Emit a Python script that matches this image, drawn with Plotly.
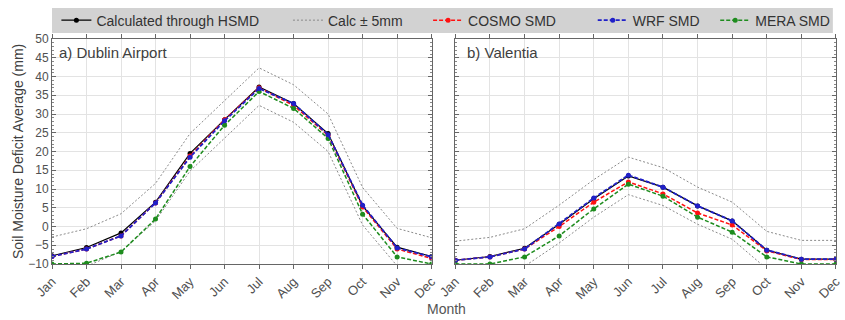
import plotly.graph_objects as go
from plotly.subplots import make_subplots

months = ["Jan", "Feb", "Mar", "Apr", "May", "Jun", "Jul", "Aug", "Sep", "Oct", "Nov", "Dec"]

# a) Dublin Airport
dub_calc = [-7.8, -5.6, -1.7, 6.5, 19.5, 28.5, 37.2, 32.8, 24.8, 5.5, -5.5, -8.0]
dub_upper = [-2.8, -0.6, 3.4, 11.5, 24.8, 33.5, 42.3, 37.8, 30.0, 10.4, -0.5, -3.0]
dub_lower = [-12.8, -10.6, -6.7, 1.5, 14.8, 23.5, 32.3, 27.8, 20.0, 0.4, -10.5, -13.0]
dub_cosmo = [-8.0, -6.0, -2.5, 6.3, 18.8, 28.5, 37.0, 32.3, 24.3, 5.2, -6.0, -8.5]
dub_wrf = [-8.0, -6.0, -2.5, 6.3, 18.5, 28.2, 36.8, 32.8, 24.5, 5.7, -5.7, -8.1]
dub_mera = [-10.0, -9.8, -6.8, 2.0, 16.0, 27.0, 36.0, 31.5, 23.5, 3.3, -8.1, -10.0]

# b) Valentia
val_calc = [-9.0, -8.0, -5.8, 0.6, 7.4, 13.5, 10.5, 5.5, 1.5, -6.3, -8.7, -8.7]
val_upper = [-3.9, -2.9, -0.6, 5.7, 12.5, 18.5, 15.7, 10.5, 6.5, -1.3, -3.7, -3.7]
val_lower = [-13.9, -12.9, -10.6, -4.4, 2.5, 8.5, 5.6, 0.6, -3.4, -11.3, -13.7, -13.7]
val_cosmo = [-9.0, -8.1, -6.0, 0.0, 6.5, 11.9, 8.7, 3.6, 0.4, -6.5, -8.8, -8.8]
val_wrf = [-9.0, -8.1, -6.0, 0.7, 7.6, 13.7, 10.5, 5.5, 1.5, -6.3, -8.7, -8.7]
val_mera = [-10.0, -10.0, -8.1, -2.5, 4.7, 11.3, 8.1, 2.5, -1.5, -8.1, -10.0, -10.0]

y_ticks = [-10, -5, 0, 5, 10, 15, 20, 25, 30, 35, 40, 45, 50]

FONT = "Liberation Sans, Arial, sans-serif"
TXT = "#404040"
DASH = "4px,2px"

fig = make_subplots(rows=1, cols=2, horizontal_spacing=0.03)

panels = [
    (1, dub_calc, dub_upper, dub_lower, dub_cosmo, dub_wrf, dub_mera),
    (2, val_calc, val_upper, val_lower, val_cosmo, val_wrf, val_mera),
]

for col, calc, up, lo, cosmo, wrf, mera in panels:
    first = col == 1
    fig.add_trace(go.Scatter(x=months, y=up, mode="lines", name="Calc ± 5mm",
                             line=dict(color="#8a8a8a", width=1, dash="2px,2px"),
                             legend="legend2", showlegend=False), row=1, col=col)
    fig.add_trace(go.Scatter(x=months, y=lo, mode="lines", name="Calc ± 5mm",
                             line=dict(color="#8a8a8a", width=1, dash="2px,2px"),
                             legend="legend2", showlegend=False), row=1, col=col)
    fig.add_trace(go.Scatter(x=months, y=calc, mode="lines+markers", name="Calculated through HSMD",
                             line=dict(color="#000000", width=1.2),
                             marker=dict(size=5, color="#000000"),
                             legend="legend", showlegend=first), row=1, col=col)
    fig.add_trace(go.Scatter(x=months, y=cosmo, mode="lines+markers", name="COSMO SMD",
                             line=dict(color="#ff1010", width=1.5, dash=DASH),
                             marker=dict(size=5, color="#ff1010"),
                             legend="legend3", showlegend=first), row=1, col=col)
    fig.add_trace(go.Scatter(x=months, y=mera, mode="lines+markers", name="MERA SMD",
                             line=dict(color="#1e8c1e", width=1.5, dash=DASH),
                             marker=dict(size=5, color="#1e8c1e"),
                             legend="legend5", showlegend=first), row=1, col=col)
    fig.add_trace(go.Scatter(x=months, y=wrf, mode="lines+markers", name="WRF SMD",
                             line=dict(color="#2020c8", width=1.8, dash=DASH),
                             marker=dict(size=5, color="#2020c8"),
                             legend="legend4", showlegend=first), row=1, col=col)

# legend-only entry for the band
fig.add_trace(go.Scatter(x=[None], y=[None], mode="lines", name="Calc ± 5mm",
                         line=dict(color="#8a8a8a", width=1, dash="2px,2px"),
                         legend="legend2", showlegend=True), row=1, col=1)

ax_common = dict(showline=True, linecolor="#666666", linewidth=1, mirror="allticks",
                 gridcolor="#e3e3e3", gridwidth=1, zeroline=False)

for col in (1, 2):
    fig.update_xaxes(row=1, col=col, range=[0, 11], tickangle=-45, ticks="outside",
                     ticklen=4, tickcolor="#666666",
                     tickfont=dict(family=FONT, size=13, color="#505050"), **ax_common)
    fig.update_yaxes(row=1, col=col, range=[-10, 50], tickvals=y_ticks, ticks="inside",
                     ticklen=4, tickcolor="#666666",
                     tickfont=dict(family=FONT, size=12, color="#505050"),
                     minor=dict(dtick=1, ticks="inside", ticklen=2, tickcolor="#888888", showgrid=False),
                     showticklabels=(col == 1), **ax_common)

fig.update_layout(xaxis=dict(domain=[0, 0.4842]), xaxis2=dict(domain=[0.5145, 1.0]))

fig.add_shape(type="rect", xref="paper", yref="paper", x0=0, x1=0.996, y0=1.0267, y1=1.1378,
              fillcolor="#d2d2d2", line=dict(width=0), layer="below")

fig.add_annotation(text="a) Dublin Airport", xref="x domain", yref="y domain", x=0.012, y=0.985,
                   xanchor="left", yanchor="top", showarrow=False,
                   font=dict(family=FONT, size=15, color=TXT))
fig.add_annotation(text="b) Valentia", xref="x2 domain", yref="y2 domain", x=0.025, y=0.985,
                   xanchor="left", yanchor="top", showarrow=False,
                   font=dict(family=FONT, size=15, color=TXT))
fig.add_annotation(text="Month", xref="paper", yref="paper", x=0.503, y=-0.2,
                   xanchor="center", yanchor="middle", showarrow=False,
                   font=dict(family=FONT, size=14, color="#555555"))
fig.add_annotation(text="Soil Moisture Deficit Average (mm)", xref="paper", yref="paper",
                   x=-0.044, y=0.5, xanchor="center", yanchor="middle", textangle=-90,
                   showarrow=False, font=dict(family=FONT, size=14, color=TXT))

legend_style = dict(orientation="h", y=1.082, yanchor="middle",
                    bgcolor="rgba(0,0,0,0)", font=dict(family=FONT, size=14, color="#333333"),
                    itemwidth=30)
legend_x = [0.0056, 0.301, 0.4797, 0.6897, 0.999]

fig.update_layout(
    width=845, height=320,
    margin=dict(l=52, r=2, t=39, b=56),
    paper_bgcolor="white", plot_bgcolor="white",
    font=dict(family=FONT, color=TXT),
    legend=dict(x=legend_x[0], xanchor="left", **legend_style),
    legend2=dict(x=legend_x[1], xanchor="left", **legend_style),
    legend3=dict(x=legend_x[2], xanchor="left", **legend_style),
    legend4=dict(x=legend_x[3], xanchor="left", **legend_style),
    legend5=dict(x=legend_x[4], xanchor="right", **legend_style),
)

fig.write_html("out.html")
